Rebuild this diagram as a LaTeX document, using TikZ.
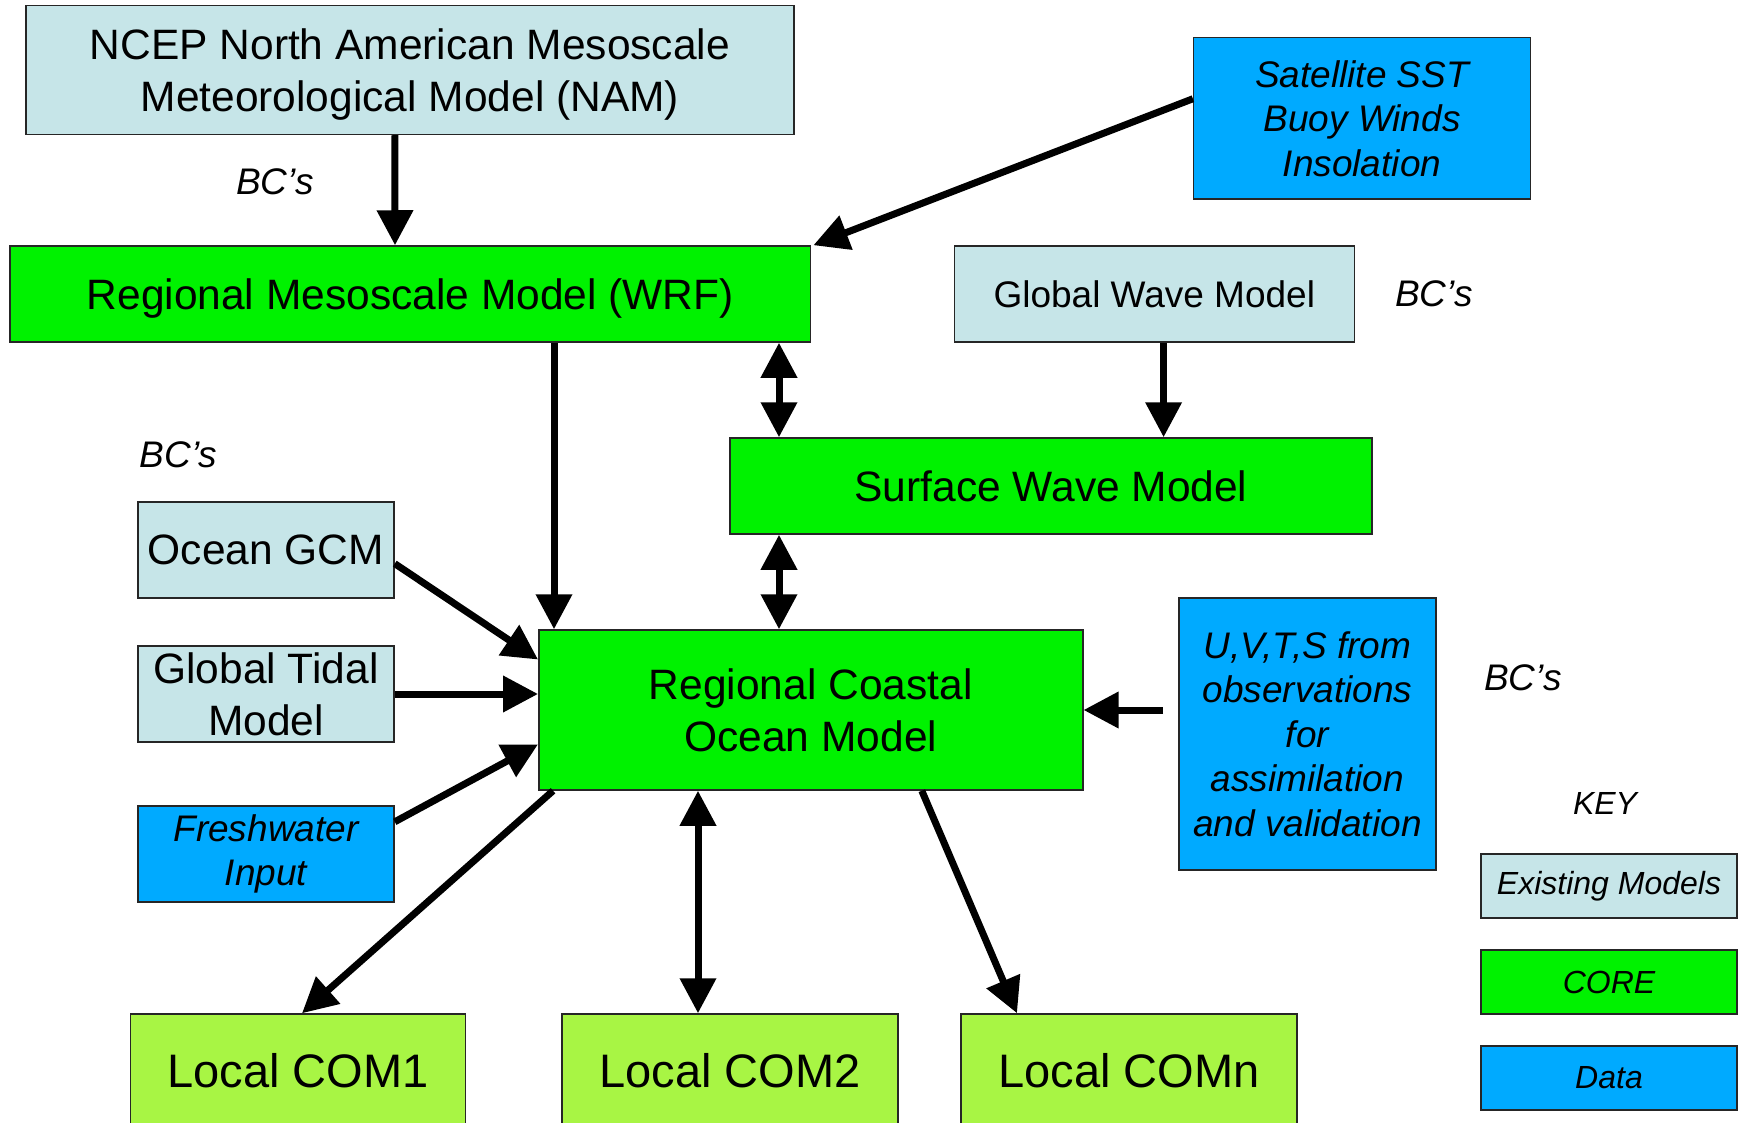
\documentclass[tikz,border=0pt]{standalone}
\usepackage{fontspec}
\setmainfont{Liberation Sans}
\usetikzlibrary{arrows.meta,calc}
\definecolor{exist}{RGB}{198,229,232}
\definecolor{core}{RGB}{0,242,0}
\definecolor{datab}{RGB}{0,170,255}
\definecolor{localc}{RGB}{168,245,68}
\begin{document}
\begin{tikzpicture}[x=1pt,y=-1pt,
  box/.style={draw=black!85, line width=1.5pt, inner sep=0pt, align=center, text=black},
  exbox/.style={box, fill=exist},
  corebox/.style={box, fill=core},
  databox/.style={box, fill=datab},
  localbox/.style={box, fill=localc},
  big/.style={font=\fontsize{42.5}{52}\selectfont},
  mid/.style={font=\fontsize{37}{44.5}\selectfont},
  midit/.style={font=\fontsize{37}{44.5}\selectfont\itshape},
  keyit/.style={font=\fontsize{32}{38}\selectfont\itshape},
  lbl/.style={inner sep=0pt, font=\fontsize{37}{44}\selectfont\itshape},
  arr/.style={line width=7pt, -{Triangle[length=35pt,width=35pt]}},
  darr/.style={line width=7pt, {Triangle[length=35pt,width=35pt]}-{Triangle[length=35pt,width=35pt]}}
]
\useasboundingbox (0,0) rectangle (1743,1123);

% boxes
\node[exbox, big, text depth=0pt, minimum width=768pt, minimum height=129pt] (nam) at (409.9,70)
  {NCEP North American Mesoscale\\Meteorological Model (NAM)};
\node[corebox, big, text depth=0pt, minimum width=800.7pt, minimum height=96pt] (wrf) at (410.3,294)
  {Regional Mesoscale Model (WRF)};
\node[databox, midit, minimum width=336.7pt, minimum height=161.3pt] (sat) at (1362,118.3)
  {Satellite SST\\Buoy Winds\\Insolation};
\node[exbox, mid, minimum width=400pt, minimum height=96pt] (gwm) at (1154.3,294)
  {Global Wave Model};
\node[corebox, big, minimum width=642pt, minimum height=96pt] (swm) at (1051,486)
  {Surface Wave Model};
\node[exbox, big, minimum width=256pt, minimum height=96pt] (ogcm) at (266,550)
  {Ocean GCM};
\node[exbox, big, minimum width=256pt, minimum height=96pt] (tidal) at (266,694)
  {Global Tidal\\Model};
\node[databox, midit, minimum width=256pt, minimum height=96pt] (fresh) at (266,854)
  {Freshwater\\Input};
\node[corebox, big, minimum width=544pt, minimum height=160pt] (coastal) at (810.8,710)
  {Regional Coastal\\Ocean Model};
\node[databox, midit, minimum width=257pt, minimum height=272pt] (obs) at (1307.5,734)
  {U,V,T,S from\\observations\\for\\assimilation\\and validation};
\node[localbox, font=\fontsize{47}{56}\selectfont, text height=34pt, text depth=28pt,
  minimum width=335pt, minimum height=140pt] (com1) at (298,1084) {Local COM1};
\node[localbox, font=\fontsize{47}{56}\selectfont, text height=34pt, text depth=28pt,
  minimum width=336pt, minimum height=140pt] (com2) at (730,1084) {Local COM2};
\node[localbox, font=\fontsize{47}{56}\selectfont, text height=34pt, text depth=28pt,
  minimum width=336pt, minimum height=140pt] (comn) at (1129,1084) {Local COMn};

% key
\node[inner sep=0pt, keyit] (key) at (1605,803) {KEY};
\node[exbox, keyit, minimum width=256pt, minimum height=64pt] (k1) at (1609,886) {Existing Models};
\node[corebox, keyit, minimum width=256pt, minimum height=64pt] (k2) at (1609,982) {CORE};
\node[databox, keyit, minimum width=256pt, minimum height=64pt] (k3) at (1609,1078) {Data};

% BC labels
\node[lbl] (bc1) at (275,182) {BC’s};
\node[lbl] (bc2) at (1434,293.5) {BC’s};
\node[lbl] (bc3) at (178.5,455) {BC’s};
\node[lbl] (bc4) at (1523,677.5) {BC’s};

% connectors
\draw[arr] ($(nam.south)+(-15,0)$) -- ($(wrf.north)+(-15.3,0)$);
\draw[arr] ($(sat.north west)!0.38!(sat.south west)$) -- ($(wrf.north east)+(2,0)$);
\draw[arr] ($(wrf.south)+(143.7,0)$) -- ($(coastal.north)+(-256.8,0)$);
\draw[darr] ($(wrf.south)+(368.7,0)$) -- ($(swm.north)+(-272,0)$);
\draw[arr] ($(gwm.south)+(9.3,0)$) -- ($(swm.north)+(112.6,0)$);
\draw[darr] ($(swm.south)+(-272,0)$) -- ($(coastal.north)+(-31.8,0)$);
\draw[arr] ($(ogcm.north east)!0.64!(ogcm.south east)$) -- ($(coastal.north west)!0.1875!(coastal.south west)$);
\draw[arr] (tidal.east) -- (tidal.east -| coastal.west);
\draw[arr] ($(fresh.north east)!0.17!(fresh.south east)$) -- ($(coastal.north west)!0.7125!(coastal.south west)$);
\draw[arr] ($(coastal.south west)+(15,0)$) -- ($(com1.north)+(4,0)$);
\draw[darr] ($(coastal.south)+(-112.8,0)$) -- ($(com2.north)+(-32,0)$);
\draw[arr] ($(coastal.south)+(111,0)$) -- ($(comn.north)+(-112,0)$);
\coordinate (obst) at (1163,710);
\draw[arr] (obst) -- (coastal.east);
\end{tikzpicture}
\end{document}
